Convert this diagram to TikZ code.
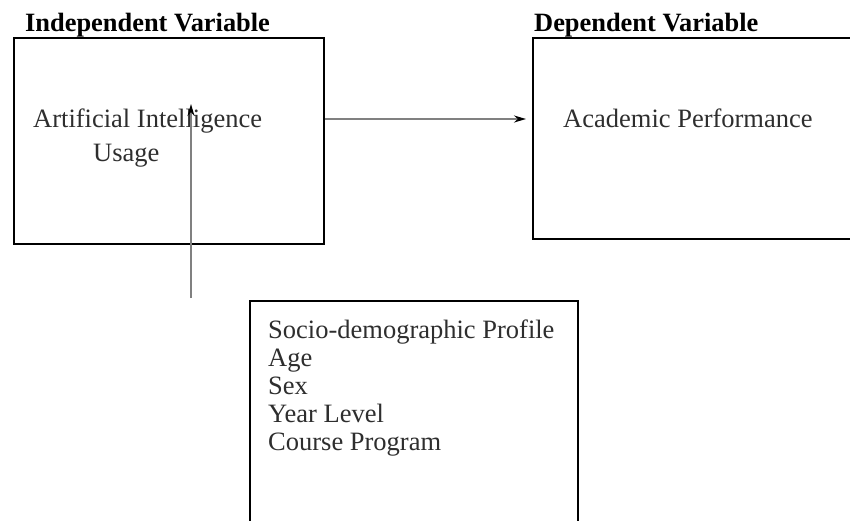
\documentclass[tikz,border=0pt]{standalone}
\usepackage{fontspec}
\setmainfont{Liberation Serif}
\usetikzlibrary{arrows.meta}
\begin{document}
\begin{tikzpicture}[x=1pt,y=-1pt,
  box/.style={draw=black,line width=1.8pt,minimum width=#1,inner sep=0pt,anchor=north west},
  head/.style={font=\fontsize{26.4}{28}\bfseries\selectfont,text=black,anchor=base west,inner sep=0pt},
  body/.style={font=\fontsize{26.5}{28}\selectfont,text=black!82,anchor=base west,inner sep=0pt},
  conn/.style={draw=black!50,line width=1.8pt,-{Stealth[length=12pt,width=7pt,black]}}]
\useasboundingbox (0,0) rectangle (850,520);
\clip (0,0) rectangle (850,520);
\fill[white] (0,0) rectangle (850,520);
% boxes
\node[box=310pt,minimum height=206pt] (lbox) at (13,37) {};
\node[box=330pt,minimum height=201pt] (rbox) at (532,37) {};
\node[box=328pt,minimum height=240pt] (bbox) at (249,300) {};
% headings
\node[head] (ivh) at (25,31) {Independent Variable};
\node[head] (dvh) at (534,31) {Dependent Variable};
% texts
\node[body] (ai1) at (33,127) {Artificial Intelligence};
\node[body] (ai2) at (93,161) {Usage};
\node[body] (ap) at (563,127) {Academic Performance};
\node[body,align=left] (sd) at (268,450) {Socio-demographic Profile\\Age\\Sex\\Year Level\\Course Program};
% connectors
\coordinate (hs) at (lbox.east |- 0,119);
\coordinate (he) at (526,119);
\coordinate (vs) at (191,298);
\coordinate (ve) at (191,104);
\draw[conn] (hs) -- (he);
\draw[conn,line width=1.4pt] (vs) -- (ve);
\end{tikzpicture}
\end{document}
